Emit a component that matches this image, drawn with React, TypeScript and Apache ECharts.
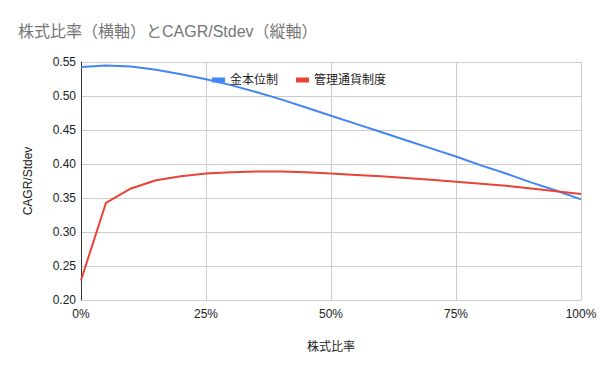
import React, { useEffect, useRef } from "react";
import * as echarts from "echarts";

const stockRatio = [0, 5, 10, 15, 20, 25, 30, 35, 40, 45, 50, 55, 60, 65, 70, 75, 80, 85, 90, 95, 100];
const goldStandard = [0.5425, 0.545, 0.5435, 0.5385, 0.532, 0.5245, 0.516, 0.506, 0.495, 0.483, 0.471, 0.459, 0.447, 0.435, 0.423, 0.411, 0.398, 0.386, 0.373, 0.361, 0.348];
const managedCurrency = [0.229, 0.343, 0.364, 0.376, 0.382, 0.386, 0.388, 0.389, 0.389, 0.388, 0.386, 0.384, 0.382, 0.3795, 0.377, 0.374, 0.371, 0.368, 0.364, 0.36, 0.356];
const seriesNames = ["金本位制", "管理通貨制度"];
const titleText = "株式比率（横軸）とCAGR/Stdev（縦軸）";
const xName = "株式比率";
const yName = "CAGR/Stdev";

const FONT = "'Liberation Sans', Arial, 'Noto Sans CJK JP', sans-serif";

export default function App() {
  const ref = useRef<HTMLDivElement>(null);
  useEffect(() => {
    if (!ref.current) return;
    const chart = echarts.init(ref.current, null, { renderer: "svg" });
    chart.setOption({
      animation: false,
      backgroundColor: "#ffffff",
      textStyle: { fontFamily: FONT },
      title: {
        text: titleText,
        left: 13,
        top: 18,
        textStyle: { fontSize: 16, fontWeight: "normal", color: "#757575", fontFamily: FONT },
      },
      legend: {
        top: 69,
        left: 207,
        itemWidth: 13,
        itemHeight: 5,
        itemGap: 18,
        icon: "rect",
        textStyle: { fontSize: 12, color: "#222222", fontFamily: FONT },
        data: seriesNames,
      },
      grid: { left: 81, right: 19, top: 62, bottom: 71 },
      xAxis: {
        type: "value",
        min: 0,
        max: 100,
        interval: 25,
        name: xName,
        nameLocation: "middle",
        nameGap: 41,
        nameTextStyle: { fontSize: 12, color: "#222222", fontFamily: FONT },
        axisLine: { show: false },
        axisTick: { show: false },
        axisLabel: { formatter: (v: number) => v + "%", fontSize: 12, color: "#222222", margin: 8 },
        splitLine: { show: true, lineStyle: { color: "#cccccc", width: 1 } },
      },
      yAxis: {
        type: "value",
        min: 0.2,
        max: 0.55,
        interval: 0.05,
        name: yName,
        nameLocation: "middle",
        nameGap: 47,
        nameTextStyle: { fontSize: 12, color: "#222222", fontFamily: FONT },
        axisLine: { show: true, onZero: false, lineStyle: { color: "#333333", width: 1 } },
        axisTick: { show: false },
        axisLabel: { formatter: (v: number) => v.toFixed(2), fontSize: 12, color: "#222222", margin: 5 },
        splitLine: { show: true, lineStyle: { color: "#cccccc", width: 1 } },
      },
      series: [
        {
          name: seriesNames[0],
          type: "line",
          data: stockRatio.map((x, i) => [x, goldStandard[i]]),
          showSymbol: false,
          symbol: "none",
          color: "#4285f4",
          lineStyle: { color: "#4285f4", width: 2 },
        },
        {
          name: seriesNames[1],
          type: "line",
          data: stockRatio.map((x, i) => [x, managedCurrency[i]]),
          showSymbol: false,
          symbol: "none",
          color: "#ea4335",
          lineStyle: { color: "#ea4335", width: 2 },
        },
      ],
    });
    return () => chart.dispose();
  }, []);
  return <div ref={ref} style={{ width: 600, height: 371, position: "absolute", left: 0, top: 0 }} />;
}
